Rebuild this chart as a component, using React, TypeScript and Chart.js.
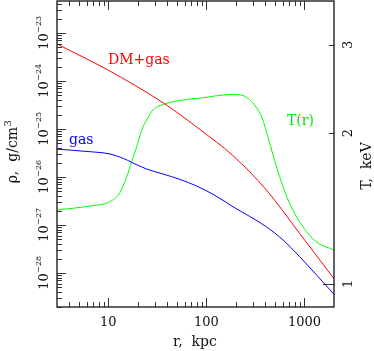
import React, { useEffect, useRef } from "react";
import { Chart, registerables } from "chart.js";

Chart.register(...registerables);

// ---- data ----
const dmRadius = [3.0, 9.7, 37.8, 85.7, 186, 408, 891, 2000];
const dmDensity = [5.9e-24, 1.74e-24, 3.32e-25, 9.8e-26, 2.8e-26, 5.4e-27, 6.7e-28, 7.6e-29];

const gasRadius = [3.0, 6.5, 10.4, 14.2, 17.3, 24.6, 36.3, 53.6, 79.3, 117, 187, 408, 603, 891, 2000];
const gasDensity = [3.8e-26, 3.37e-26, 3.02e-26, 2.45e-26, 2.02e-26, 1.47e-26, 1.15e-26, 8.95e-27, 6.5e-27, 4.36e-27, 2.4e-27, 9.2e-28, 4.9e-28, 2.2e-28, 3.6e-29];

const tempRadius = [3.0, 6.5, 10.4, 13.0, 15.4, 17.3, 19.5, 21.9, 24.6, 28.5, 37.8, 57.5, 85.7, 186, 246, 297, 336, 367, 442, 558, 705, 963, 1318, 2000];
const tempKeV = [1.405, 1.431, 1.46, 1.517, 1.637, 1.754, 1.88, 2.03, 2.125, 2.225, 2.287, 2.33, 2.35, 2.39, 2.37, 2.30, 2.225, 2.155, 1.909, 1.638, 1.449, 1.301, 1.214, 1.169];

const xMajorTicks = [10, 100, 1000];
const xTickLabels = ["10", "100", "1000"];
const rhoDecades = [-28, -27, -26, -25, -24, -23];
const tTicks = [1, 2, 3];
const tTickLabels = ["1", "2", "3"];

const xRange = [3, 2000];
const rhoRange = [Math.pow(10, -28.708), Math.pow(10, -22.333)];
const tRange = [0.8996, 3.672];

const SERIF = '"DejaVu Serif", "Liberation Serif", serif';

const decorPlugin = {
  id: "decor",
  afterDraw(chart: any) {
    const ctx: CanvasRenderingContext2D = chart.ctx;
    const { left, right, top, bottom } = chart.chartArea;
    const xs = chart.scales.x;
    const ys = chart.scales.y;
    const ts = chart.scales.y2;
    ctx.save();

    // ticks
    ctx.strokeStyle = "#333";
    ctx.lineWidth = 1;
    const vline = (x: number, y0: number, y1: number) => {
      ctx.beginPath();
      ctx.moveTo(Math.round(x) + 0.5, y0);
      ctx.lineTo(Math.round(x) + 0.5, y1);
      ctx.stroke();
    };
    const hline = (y: number, x0: number, x1: number) => {
      ctx.beginPath();
      ctx.moveTo(x0, Math.round(y) + 0.5);
      ctx.lineTo(x1, Math.round(y) + 0.5);
      ctx.stroke();
    };
    // x ticks (bottom and top)
    for (let d = 0; d <= 3; d++) {
      for (let k = 1; k <= 9; k++) {
        const v = k * Math.pow(10, d);
        if (v < xRange[0] || v > xRange[1]) continue;
        const px = xs.getPixelForValue(v);
        if (px <= left + 1 || px >= right - 1) continue;
        const len = k === 1 ? 9 : 5;
        vline(px, bottom, bottom - len);
        vline(px, top, top + len);
      }
    }
    // left y ticks
    for (let d = -29; d <= -23; d++) {
      for (let k = 1; k <= 9; k++) {
        const v = k * Math.pow(10, d);
        if (v < rhoRange[0] || v > rhoRange[1]) continue;
        const py = ys.getPixelForValue(v);
        const len = k === 1 ? 9 : 5;
        hline(py, left, left + len);
      }
    }
    // right T ticks
    tTicks.forEach((t, i) => {
      const py = ts.getPixelForValue(t);
      hline(py, right, right - (i === 0 ? 11 : 5));
    });

    // frame
    ctx.strokeStyle = "#222";
    ctx.lineWidth = 1.4;
    ctx.strokeRect(left, top, right - left, bottom - top);

    // x tick labels
    ctx.fillStyle = "#111";
    ctx.font = `13px ${SERIF}`;
    ctx.textAlign = "center";
    ctx.textBaseline = "alphabetic";
    xMajorTicks.forEach((v, i) => {
      ctx.fillText(xTickLabels[i], xs.getPixelForValue(v), 326);
    });

    // left y tick labels: 10^n, rotated
    rhoDecades.forEach((d) => {
      const py = ys.getPixelForValue(Math.pow(10, d));
      ctx.save();
      ctx.translate(47.5, py);
      ctx.rotate(-Math.PI / 2);
      ctx.textAlign = "left";
      ctx.font = `13px ${SERIF}`;
      const base = "10";
      const w1 = ctx.measureText(base).width;
      ctx.font = `8px ${SERIF}`;
      const sup = "\u2212" + String(-d);
      const w2 = ctx.measureText(sup).width;
      const start = -(w1 + w2) / 2;
      ctx.font = `13px ${SERIF}`;
      ctx.fillText(base, start, 0);
      ctx.font = `8px ${SERIF}`;
      ctx.fillText(sup, start + w1 + 0.5, -7);
      ctx.restore();
    });

    // right tick labels
    tTicks.forEach((t, i) => {
      const py = ts.getPixelForValue(t);
      ctx.save();
      ctx.translate(352, py);
      ctx.rotate(-Math.PI / 2);
      ctx.textAlign = "center";
      ctx.font = `13px ${SERIF}`;
      ctx.fillText(tTickLabels[i], 0, 0);
      ctx.restore();
    });

    // axis titles
    ctx.font = `14px ${SERIF}`;
    ctx.textAlign = "center";
    ctx.fillText("r,  kpc", 195, 346);

    // rho title rotated
    ctx.save();
    ctx.translate(17, 152);
    ctx.rotate(-Math.PI / 2);
    ctx.font = `14px ${SERIF}`;
    const main = "\u03C1,  g/cm";
    const wm = ctx.measureText(main).width;
    ctx.font = `10px ${SERIF}`;
    const ws = ctx.measureText("3").width;
    const st = -(wm + ws) / 2;
    ctx.textAlign = "left";
    ctx.font = `14px ${SERIF}`;
    ctx.fillText(main, st, 0);
    ctx.font = `10px ${SERIF}`;
    ctx.fillText("3", st + wm + 0.5, -6);
    ctx.restore();

    // T title rotated
    ctx.save();
    ctx.translate(371, 166);
    ctx.rotate(-Math.PI / 2);
    ctx.font = `14px ${SERIF}`;
    ctx.textAlign = "center";
    ctx.fillText("T,  keV", 0, 0);
    ctx.restore();

    // curve labels
    ctx.textAlign = "left";
    ctx.font = `14px ${SERIF}`;
    ctx.fillStyle = "#ff0000";
    ctx.fillText("DM+gas", 108, 63.5);
    ctx.fillStyle = "#0000ff";
    ctx.fillText("gas", 69, 143.5);
    ctx.fillStyle = "#00ee00";
    ctx.fillText("T(r)", 287, 125);

    ctx.restore();
  },
};

export default function App() {
  const ref = useRef<HTMLCanvasElement | null>(null);
  useEffect(() => {
    document.body.style.margin = "0";
    const canvas = ref.current;
    if (!canvas) return;
    const toPts = (xs: number[], ys: number[]) => xs.map((x, i) => ({ x, y: ys[i] }));
    const chart = new Chart(canvas, {
      type: "line",
      data: {
        datasets: [
          {
            label: "DM+gas",
            data: toPts(dmRadius, dmDensity),
            borderColor: "#ff0000",
            borderWidth: 1,
            pointRadius: 0,
            cubicInterpolationMode: "monotone",
            yAxisID: "y",
          },
          {
            label: "gas",
            data: toPts(gasRadius, gasDensity),
            borderColor: "#0000ff",
            borderWidth: 1,
            pointRadius: 0,
            cubicInterpolationMode: "monotone",
            yAxisID: "y",
          },
          {
            label: "T(r)",
            data: toPts(tempRadius, tempKeV),
            borderColor: "#00ff00",
            borderWidth: 1,
            pointRadius: 0,
            cubicInterpolationMode: "monotone",
            yAxisID: "y2",
          },
        ],
      },
      options: {
        responsive: false,
        animation: false,
        devicePixelRatio: 1,
        parsing: false as any,
        layout: { padding: { left: 57, right: 40, top: 1, bottom: 44 } },
        plugins: { legend: { display: false }, tooltip: { enabled: false } },
        scales: {
          x: { type: "logarithmic", min: xRange[0], max: xRange[1], display: false },
          y: { type: "logarithmic", min: rhoRange[0], max: rhoRange[1], display: false },
          y2: { type: "logarithmic", min: tRange[0], max: tRange[1], display: false },
        },
      },
      plugins: [decorPlugin],
    });
    return () => chart.destroy();
  }, []);
  return (
    <div style={{ width: 374, height: 351, background: "#fff" }}>
      <canvas ref={ref} width={374} height={351} style={{ display: "block" }} />
    </div>
  );
}
